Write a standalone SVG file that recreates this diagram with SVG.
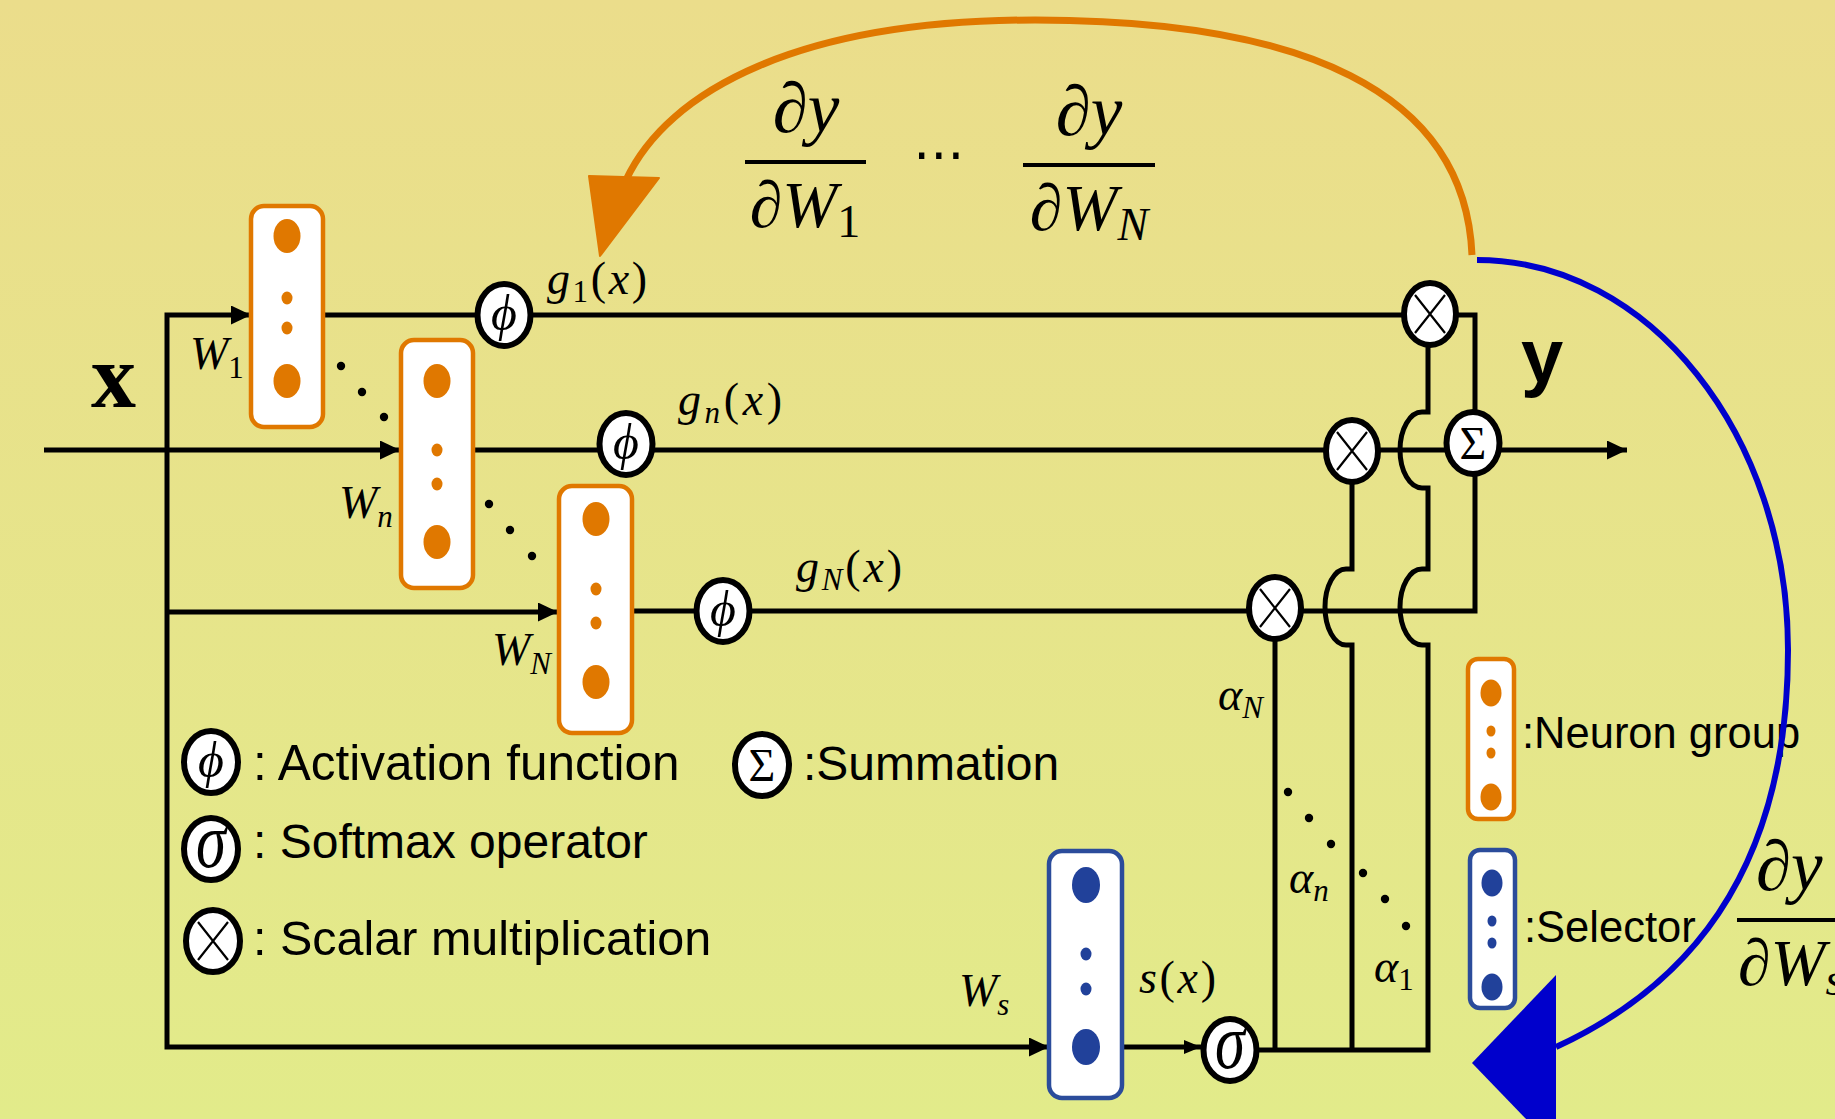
<svg xmlns="http://www.w3.org/2000/svg" width="1835" height="1119" viewBox="0 0 1835 1119">
<defs>
<linearGradient id="bg" x1="0" y1="0" x2="0" y2="1">
<stop offset="0" stop-color="#EBDD8B"/>
<stop offset="1" stop-color="#E2EB8A"/>
</linearGradient>
<marker id="ah" markerUnits="userSpaceOnUse" viewBox="0 0 20 19" markerWidth="20" markerHeight="19" refX="20" refY="9.5" orient="auto-start-reverse"><path d="M0,0 L20,9.5 L0,19 z" fill="#000"/></marker>
<marker id="ahs" markerUnits="userSpaceOnUse" viewBox="0 0 17 14" markerWidth="17" markerHeight="14" refX="17" refY="7" orient="auto"><path d="M0,0 L17,7 L0,14 z" fill="#000"/></marker>
</defs>
<style>
.ln{fill:none;stroke:#000;stroke-width:5}
.nd{fill:#fff;stroke:#000;stroke-width:6}
.xx{stroke:#000;stroke-width:2.2;fill:none}
.ob{fill:#fff;stroke:#E07800;stroke-width:4.5}
.od{fill:#E07800}
.bb{fill:#fff;stroke:#2B4C9B;stroke-width:4.5}
.bd{fill:#21419A}
.dt{fill:#000}
.m{font-family:"Liberation Serif","DejaVu Serif",serif;font-style:italic;font-size:46px;fill:#000}
.sb{font-size:31px}
.up{font-style:normal}
.fr{font-family:"Liberation Serif","DejaVu Serif",serif;font-style:italic;font-size:66px;fill:#000}
.dy{font-size:71px}
.fs{font-size:46px}
.lg{font-family:"Liberation Sans",Arial,sans-serif;font-size:48px;fill:#000}
.lr{font-family:"Liberation Sans",Arial,sans-serif;font-size:43.5px;fill:#000}
.phi{font-family:"Liberation Serif","DejaVu Serif",serif;font-style:italic;font-size:50px;text-anchor:middle}
.sig{font-family:"Liberation Serif","DejaVu Serif",serif;font-style:italic;font-size:78px;text-anchor:middle}
.sum{font-family:"Liberation Serif","DejaVu Serif",serif;font-size:46px;text-anchor:middle}
.bar{stroke:#000;stroke-width:4}
</style>
<rect width="1835" height="1119" fill="url(#bg)"/>

<g id="connectors">
<path class="ln" d="M44,450 H400" marker-end="url(#ah)"/>
<path class="ln" d="M251,315 H167 V1047 H1049" marker-start="url(#ah)" marker-end="url(#ah)"/>
<path class="ln" d="M167,612 H558" marker-end="url(#ah)"/>
<path class="ln" d="M325,315 H1475 V430"/>
<path class="ln" d="M475,450 H1627" marker-end="url(#ah)"/>
<path class="ln" d="M634,611 H1475 V460"/>
<path class="ln" d="M1124,1047 H1201" marker-end="url(#ahs)"/>
<path class="ln" d="M1275,620 V1050"/>
<path class="ln" d="M1352,460 V569 H1346 A21 38 0 0 0 1346,645 H1352 V1050"/>
<path class="ln" d="M1240,1050 H1428 V645 H1422 A22 38 0 0 1 1422,569 H1428 V488 H1422 A22 38 0 0 1 1422,412 H1428 V330"/>
</g>

<g id="dots">
<circle class="dt" cx="341" cy="366" r="4.2"/><circle class="dt" cx="362" cy="392" r="4.2"/><circle class="dt" cx="384" cy="417" r="4.2"/>
<circle class="dt" cx="489" cy="504" r="4.2"/><circle class="dt" cx="510" cy="530" r="4.2"/><circle class="dt" cx="532" cy="556" r="4.2"/>
<circle class="dt" cx="1288" cy="792" r="4.2"/><circle class="dt" cx="1309" cy="818" r="4.2"/><circle class="dt" cx="1331" cy="844" r="4.2"/>
<circle class="dt" cx="1363" cy="873" r="4.2"/><circle class="dt" cx="1385" cy="899" r="4.2"/><circle class="dt" cx="1406" cy="926" r="4.2"/>
</g>

<g id="box1">
<rect class="ob" x="251" y="206" width="72" height="221" rx="13"/>
<ellipse class="od" cx="287" cy="236" rx="13.5" ry="17"/>
<ellipse class="od" cx="287" cy="298" rx="5.5" ry="6.5"/>
<ellipse class="od" cx="287" cy="328" rx="5.5" ry="6.5"/>
<ellipse class="od" cx="287" cy="381" rx="13.5" ry="17"/>
</g>
<g id="boxn">
<rect class="ob" x="401" y="340" width="72" height="248" rx="13"/>
<ellipse class="od" cx="437" cy="381" rx="13.5" ry="17"/>
<ellipse class="od" cx="437" cy="450" rx="5.5" ry="6.5"/>
<ellipse class="od" cx="437" cy="484" rx="5.5" ry="6.5"/>
<ellipse class="od" cx="437" cy="542" rx="13.5" ry="17"/>
</g>
<g id="boxN">
<rect class="ob" x="559" y="486" width="73" height="247" rx="13"/>
<ellipse class="od" cx="596" cy="519" rx="13.5" ry="17"/>
<ellipse class="od" cx="596" cy="589" rx="5.5" ry="6.5"/>
<ellipse class="od" cx="596" cy="623" rx="5.5" ry="6.5"/>
<ellipse class="od" cx="596" cy="682" rx="13.5" ry="17"/>
</g>
<g id="selector">
<rect class="bb" x="1049" y="851" width="73" height="247" rx="13"/>
<ellipse class="bd" cx="1086" cy="885" rx="14" ry="18"/>
<ellipse class="bd" cx="1086" cy="954" rx="5.5" ry="6.5"/>
<ellipse class="bd" cx="1086" cy="989" rx="5.5" ry="6.5"/>
<ellipse class="bd" cx="1086" cy="1047" rx="14" ry="18"/>
</g>

<g id="phi1"><ellipse class="nd" cx="504" cy="315" rx="26.5" ry="31"/><text class="phi" x="504" y="330">ϕ</text></g>
<g id="phin"><ellipse class="nd" cx="626" cy="444" rx="26.5" ry="31"/><text class="phi" x="626" y="459">ϕ</text></g>
<g id="phiN"><ellipse class="nd" cx="723" cy="611" rx="26.5" ry="31"/><text class="phi" x="723" y="626">ϕ</text></g>

<g id="mul1"><ellipse class="nd" cx="1430" cy="314" rx="26" ry="31"/><path class="xx" d="M1415,295 L1445,333 M1445,295 L1415,333"/></g>
<g id="muln"><ellipse class="nd" cx="1352" cy="451" rx="26" ry="31"/><path class="xx" d="M1337,432 L1367,470 M1367,432 L1337,470"/></g>
<g id="mulN"><ellipse class="nd" cx="1275" cy="608" rx="26" ry="31"/><path class="xx" d="M1260,589 L1290,627 M1290,589 L1260,627"/></g>
<g id="sum"><ellipse class="nd" cx="1473" cy="443" rx="26.5" ry="31"/><text class="sum" x="1473" y="459">Σ</text></g>
<g id="softmax"><ellipse class="nd" cx="1230" cy="1050" rx="26.5" ry="31"/><text class="sig" transform="translate(1230,1068) scale(0.78,1)" x="0" y="0">σ</text></g>

<g id="labels">
<text x="91" y="407" style="font-family:'Liberation Serif',serif;font-weight:bold;font-size:90px">x</text>
<text x="1521" y="382" style="font-family:'Liberation Sans',Arial,sans-serif;font-weight:bold;font-size:76px">y</text>
<text class="m" x="190" y="369">W<tspan class="sb up" dy="9">1</tspan></text>
<text class="m" x="339" y="518">W<tspan class="sb" dy="9">n</tspan></text>
<text class="m" x="492" y="665">W<tspan class="sb" dy="9">N</tspan></text>
<text class="m" x="959" y="1006">W<tspan class="sb" dy="9">s</tspan></text>
<text class="m" x="547" y="294" textLength="100">g<tspan class="sb up" dy="8">1</tspan><tspan class="up" dy="-8">(</tspan>x<tspan class="up">)</tspan></text>
<text class="m" x="678" y="415" textLength="104">g<tspan class="sb" dy="8">n</tspan><tspan class="up" dy="-8">(</tspan>x<tspan class="up">)</tspan></text>
<text class="m" x="796" y="582" textLength="106">g<tspan class="sb" dy="8">N</tspan><tspan class="up" dy="-8">(</tspan>x<tspan class="up">)</tspan></text>
<text class="m" x="1139" y="993" textLength="77">s<tspan class="up">(</tspan>x<tspan class="up">)</tspan></text>
<text class="m" x="1218" y="710">α<tspan class="sb" dy="8">N</tspan></text>
<text class="m" x="1289" y="893">α<tspan class="sb" dy="8">n</tspan></text>
<text class="m" x="1374" y="982">α<tspan class="sb up" dy="8">1</tspan></text>
</g>

<g id="grad1">
<text class="fr dy" x="806" y="132" text-anchor="middle">∂y</text>
<line class="bar" x1="745" y1="162" x2="866" y2="162"/>
<text class="fr" x="805" y="227" text-anchor="middle">∂W<tspan class="fs up" dy="10">1</tspan></text>
</g>
<text id="cdots" x="913" y="172" style="font-family:'DejaVu Sans',sans-serif;font-size:52px">⋯</text>
<g id="gradN">
<text class="fr dy" x="1089" y="135" text-anchor="middle">∂y</text>
<line class="bar" x1="1023" y1="165" x2="1155" y2="165"/>
<text class="fr" x="1089" y="230" text-anchor="middle">∂W<tspan class="fs" dy="10">N</tspan></text>
</g>
<g id="gradS">
<text class="fr dy" x="1756" y="890">∂y</text>
<line class="bar" x1="1737" y1="920" x2="1840" y2="920"/>
<text class="fr" x="1738" y="985">∂W<tspan class="fs" dy="10">s</tspan></text>
</g>

<g id="legend">
<g id="lg-phi"><ellipse class="nd" cx="211" cy="762" rx="27" ry="31"/><text class="phi" x="211" y="777">ϕ</text><text class="lg" x="253" y="780" style="font-size:49.5px">: Activation function</text></g>
<g id="lg-sig"><ellipse class="nd" cx="211" cy="849" rx="27" ry="31"/><text class="sig" transform="translate(211,867) scale(0.78,1)" x="0" y="0">σ</text><text class="lg" x="253" y="858">: Softmax operator</text></g>
<g id="lg-mul"><ellipse class="nd" cx="213" cy="941" rx="27" ry="31"/><path class="xx" d="M198,922 L228,960 M228,922 L198,960"/><text class="lg" x="253" y="955" style="font-size:48.5px">: Scalar multiplication</text></g>
<g id="lg-sum"><ellipse class="nd" cx="762" cy="765" rx="27" ry="31"/><text class="sum" x="762" y="781">Σ</text><text class="lg" x="803" y="780">:Summation</text></g>
<g id="lg-neuron">
<rect class="ob" x="1468" y="659" width="46" height="160" rx="10"/>
<ellipse class="od" cx="1491" cy="693" rx="10.5" ry="13.5"/>
<ellipse class="od" cx="1491" cy="731" rx="4.5" ry="5.5"/>
<ellipse class="od" cx="1491" cy="753" rx="4.5" ry="5.5"/>
<ellipse class="od" cx="1491" cy="797" rx="10.5" ry="13.5"/>
<text class="lr" x="1522" y="748">:Neuron group</text>
</g>
<g id="lg-selector">
<rect class="bb" x="1470" y="850" width="45" height="158" rx="10"/>
<ellipse class="bd" cx="1492" cy="883" rx="10.5" ry="13.5"/>
<ellipse class="bd" cx="1492" cy="921" rx="4.5" ry="5.5"/>
<ellipse class="bd" cx="1492" cy="943" rx="4.5" ry="5.5"/>
<ellipse class="bd" cx="1492" cy="987" rx="10.5" ry="13.5"/>
<text class="lr" x="1524" y="942">:Selector</text>
</g>
</g>

<g id="feedback">
<path d="M1472,255 C1465,90 1300,20 1035,20 C800,20 668,90 626,180" fill="none" stroke="#E07800" stroke-width="7"/>
<polygon points="589,176 659,178 600,256" fill="#E07800" stroke="#E07800" stroke-width="2" stroke-linejoin="round"/>
<path d="M1477,260 C1649,260 1788,435 1788,650 C1788,880 1680,990 1556,1047" fill="none" stroke="#0000CC" stroke-width="6"/>
<polygon points="1472,1063 1556,975 1556,1150" fill="#0000CC"/>
</g>
</svg>
